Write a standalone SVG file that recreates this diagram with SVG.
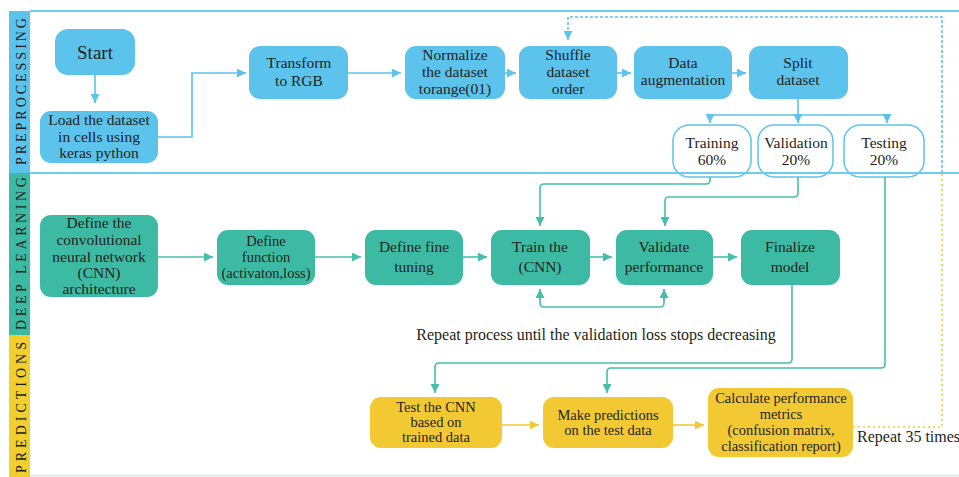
<svg xmlns="http://www.w3.org/2000/svg" width="959" height="477" viewBox="0 0 959 477">
<defs>
<style>
text{font-family:"Liberation Serif","Times New Roman",serif;fill:#231f20;text-anchor:middle}
.t{font-size:15.5px}
.s{font-size:14.5px}
.band{font-size:14px;text-anchor:middle}
.bn{fill:#5bc3ec}
.tn{fill:#3dbaa3}
.yn{fill:#f2c932}
.on{fill:#ffffff;stroke:#5bc3ec;stroke-width:1.5}
.cb{fill:none;stroke:#5bc3ec;stroke-width:1.6}
.ct{fill:none;stroke:#45bfaa;stroke-width:1.6}
.cy{fill:none;stroke:#f2c932;stroke-width:1.6}
</style>
<marker id="mb" viewBox="0 0 10 10" refX="10" refY="5" markerWidth="9" markerHeight="9" markerUnits="userSpaceOnUse" orient="auto"><path d="M0,0 L10,5 L0,10 z" fill="#5bc3ec"/></marker>
<marker id="mt" viewBox="0 0 10 10" refX="10" refY="5" markerWidth="9" markerHeight="9" markerUnits="userSpaceOnUse" orient="auto"><path d="M0,0 L10,5 L0,10 z" fill="#45bfaa"/></marker>
<marker id="my" viewBox="0 0 10 10" refX="10" refY="5" markerWidth="9" markerHeight="9" markerUnits="userSpaceOnUse" orient="auto"><path d="M0,0 L10,5 L0,10 z" fill="#f2c932"/></marker>
</defs>
<rect x="0" y="0" width="959" height="477" fill="#ffffff"/>
<g id="lanes">
<rect x="9" y="11" width="21" height="162" fill="#5bc3ec"/>
<rect x="9" y="173" width="21" height="162" fill="#3dbaa3"/>
<rect x="9" y="335" width="21" height="142" fill="#f2ce2e"/>
<line x1="30" y1="11" x2="959" y2="11" stroke="#6ccbef" stroke-width="2"/>
<line x1="30" y1="475.5" x2="959" y2="475.5" stroke="#e6ebe8" stroke-width="2"/>
<text class="band" transform="translate(26,91.5) rotate(-90)" textLength="147" lengthAdjust="spacing">PREPROCESSING</text>
<text class="band" transform="translate(26,253.5) rotate(-90)" textLength="153" lengthAdjust="spacing">DEEP LEARNING</text>
<text class="band" transform="translate(26,407.5) rotate(-90)" textLength="131" lengthAdjust="spacing">PREDICTIONS</text>
</g>
<g id="n-start"><rect class="bn" x="55" y="29" width="80" height="46" rx="13"/><text x="95" y="59" style="font-size:19px">Start</text></g>
<g id="n-load"><rect class="bn" x="40" y="111" width="118" height="52" rx="11"/><text class="t" x="99" y="125">Load the dataset</text><text class="t" x="99" y="142">in cells using</text><text class="t" x="99" y="158">keras python</text></g>
<g id="n-rgb"><rect class="bn" x="249" y="46" width="99" height="53" rx="11"/><text class="t" x="299" y="68">Transform</text><text class="t" x="299" y="86">to RGB</text></g>
<g id="n-norm"><rect class="bn" x="405" y="46" width="100" height="53" rx="11"/><text class="t" x="455" y="60">Normalize</text><text class="t" x="455" y="77">the dataset</text><text class="t" x="455" y="94">torange(01)</text></g>
<g id="n-shuffle"><rect class="bn" x="519" y="46" width="98" height="53" rx="11"/><text class="t" x="568" y="60">Shuffle</text><text class="t" x="568" y="77">dataset</text><text class="t" x="568" y="94">order</text></g>
<g id="n-aug"><rect class="bn" x="634" y="46" width="98" height="53" rx="11"/><text class="t" x="683" y="68">Data</text><text class="t" x="683" y="85">augmentation</text></g>
<g id="n-split"><rect class="bn" x="749" y="46" width="99" height="53" rx="11"/><text class="t" x="798" y="68">Split</text><text class="t" x="798" y="85">dataset</text></g>
<g id="n-train-set"><rect class="on" x="673" y="125" width="78" height="52" rx="16"/><text class="t" x="712" y="148">Training</text><text class="t" x="712" y="165">60%</text></g>
<g id="n-val-set"><rect class="on" x="758" y="125" width="75" height="52" rx="16"/><text class="t" x="796" y="148">Validation</text><text class="t" x="796" y="165">20%</text></g>
<g id="n-test-set"><rect class="on" x="844" y="125" width="80" height="52" rx="16"/><text class="t" x="884" y="148">Testing</text><text class="t" x="884" y="165">20%</text></g>
<line x1="30" y1="173" x2="959" y2="173" stroke="#6ccbef" stroke-width="2"/>
<g id="n-cnn"><rect class="tn" x="40" y="215" width="118" height="82" rx="11"/><text class="t" x="99" y="228">Define the</text><text class="t" x="99" y="245">convolutional</text><text class="t" x="99" y="262">neural network</text><text class="t" x="99" y="278">(CNN)</text><text class="t" x="99" y="294">architecture</text></g>
<g id="n-func"><rect class="tn" x="217" y="230" width="98" height="55" rx="11"/><text class="s" x="266" y="246">Define</text><text class="s" x="266" y="262">function</text><text class="s" x="266" y="278">(activaton,loss)</text></g>
<g id="n-fine"><rect class="tn" x="365" y="230" width="98" height="55" rx="11"/><text class="t" x="414" y="252">Define fine</text><text class="t" x="414" y="272">tuning</text></g>
<g id="n-trainc"><rect class="tn" x="491" y="230" width="99" height="55" rx="11"/><text class="t" x="540" y="252">Train the</text><text class="t" x="540" y="272">(CNN)</text></g>
<g id="n-validate"><rect class="tn" x="616" y="230" width="97" height="55" rx="11"/><text class="t" x="664" y="252">Validate</text><text class="t" x="664" y="272">performance</text></g>
<g id="n-final"><rect class="tn" x="741" y="230" width="99" height="55" rx="11"/><text class="t" x="790" y="252">Finalize</text><text class="t" x="790" y="272">model</text></g>
<g id="n-test"><rect class="yn" x="370" y="397" width="132" height="51" rx="11"/><text class="s" x="436" y="412">Test the CNN</text><text class="s" x="436" y="427">based on</text><text class="s" x="436" y="442">trained data</text></g>
<g id="n-pred"><rect class="yn" x="543" y="397" width="130" height="51" rx="11"/><text class="s" x="608" y="420">Make predictions</text><text class="s" x="608" y="435">on the test data</text></g>
<g id="n-calc"><rect class="yn" x="708" y="388" width="145" height="69" rx="11"/><text class="s" x="781" y="403">Calculate performance</text><text class="s" x="781" y="419">metrics</text><text class="s" x="781" y="435">(confusion matrix,</text><text class="s" x="781" y="451">classification report)</text></g>
<g id="labels">
<text x="596" y="340" style="font-size:16px">Repeat process until the  validation loss stops decreasing</text>
<text x="857" y="442" style="font-size:16px;text-anchor:start">Repeat 35 times</text>
</g>
<g id="connectors">
<path class="cb" d="M95 75 V103" marker-end="url(#mb)"/>
<path class="cb" d="M158 137 H192 V73 H246" marker-end="url(#mb)"/>
<path class="cb" d="M348 73 H401" marker-end="url(#mb)"/>
<path class="cb" d="M505 73 H516" marker-end="url(#mb)"/>
<path class="cb" d="M617 73 H631" marker-end="url(#mb)"/>
<path class="cb" d="M732 73 H746" marker-end="url(#mb)"/>
<path class="cb" d="M798 99 V115 M710 115 H887"/>
<path class="cb" d="M710 115 V123" marker-end="url(#mb)"/>
<path class="cb" d="M798 115 V123" marker-end="url(#mb)"/>
<path class="cb" d="M887 115 V123" marker-end="url(#mb)"/>
<path class="cb" d="M942 173 V17 H568 V40" stroke-dasharray="3 2" marker-end="url(#mb)"/>
<path class="cy" d="M853 427 H942 V173" stroke-dasharray="2 3"/>
<path class="ct" d="M158 257 H213" marker-end="url(#mt)"/>
<path class="ct" d="M315 257 H361" marker-end="url(#mt)"/>
<path class="ct" d="M463 257 H487" marker-end="url(#mt)"/>
<path class="ct" d="M590 257 H612" marker-end="url(#mt)"/>
<path class="ct" d="M713 257 H737" marker-end="url(#mt)"/>
<path class="ct" d="M710 177 V180 Q710 184 706 184 H544 Q540 184 540 188 V226" marker-end="url(#mt)"/>
<path class="ct" d="M798 177 V193 Q798 197 794 197 H669 Q665 197 665 201 V226" marker-end="url(#mt)"/>
<path class="ct" d="M540 289 V303 Q540 307 544 307 H660 Q664 307 664 303 V289"/>
<path class="ct" d="M540 300 V289" marker-end="url(#mt)"/>
<path class="ct" d="M664 300 V289" marker-end="url(#mt)"/>
<path class="ct" d="M792 285 V359 Q792 363 788 363 H439 Q435 363 435 367 V393" marker-end="url(#mt)"/>
<path class="ct" d="M885 177 V364 Q885 368 881 368 H611 Q607 368 607 372 V393" marker-end="url(#mt)"/>
<path class="cy" d="M502 425 H539" marker-end="url(#my)"/>
<path class="cy" d="M673 425 H704" marker-end="url(#my)"/>
</g>
</svg>
